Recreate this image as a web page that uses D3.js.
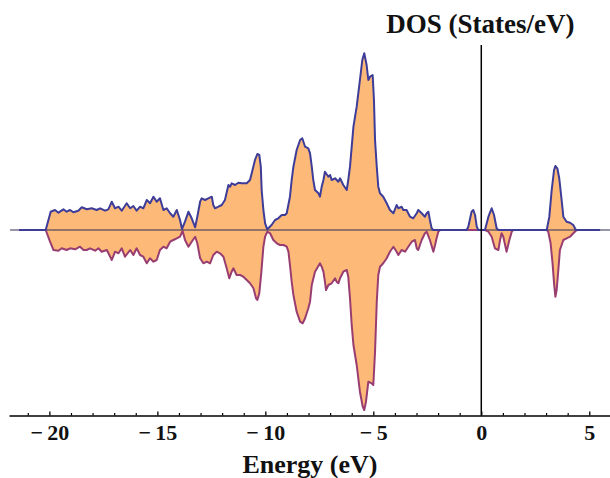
<!DOCTYPE html>
<html>
<head>
<meta charset="utf-8">
<script src="https://cdn.jsdelivr.net/npm/d3@7"></script>
<style>
  html, body { margin: 0; padding: 0; background: #fff; }
  svg { display: block; }
  text { font-family: "Liberation Serif", "Times New Roman", serif; font-weight: bold; fill: #111; }
</style>
</head>
<body>
<svg id="chart" width="610" height="478"></svg>
<script>
// Energy (eV) vs DOS (States/eV), spin up (positive) and spin down (negative)
const spinUp = [
  [-21.4,0],[-20.17,0],[-19.94,1.83],[-19.74,2.0],[-19.58,1.73],[-19.35,2.07],[-19.20,1.83],[-19.04,2.0],
  [-18.89,1.77],[-18.66,1.93],[-18.50,2.27],[-18.27,2.07],[-18.04,2.17],[-17.81,2.0],[-17.65,2.17],
  [-17.42,1.93],[-17.27,2.07],[-17.11,2.83],[-16.96,2.17],[-16.80,2.33],[-16.65,1.93],[-16.42,2.67],
  [-16.26,2.17],[-16.11,2.4],[-15.96,1.93],[-15.80,2.33],[-15.65,2.17],[-15.49,3.0],[-15.34,2.67],
  [-15.18,3.33],[-15.03,2.83],[-14.88,3.17],[-14.72,2.0],[-14.57,2.17],[-14.41,1.67],[-14.26,1.33],
  [-14.10,2.0],[-13.95,1.0],[-13.86,0.1],[-13.72,0.83],[-13.56,1.83],[-13.41,1.17],[-13.25,0.27],
  [-13.15,1.33],[-13.02,2.83],[-12.95,3.17],[-12.79,3.0],[-12.64,3.17],[-12.48,3.33],[-12.41,2.5],
  [-12.33,2.17],[-12.17,2.33],[-12.02,2.5],[-11.87,3.0],[-11.71,4.5],[-11.63,4.33],[-11.56,4.67],
  [-11.40,4.5],[-11.25,4.73],[-11.09,4.67],[-10.86,4.67],[-10.71,5.0],[-10.63,5.67],[-10.48,7.0],
  [-10.37,7.6],[-10.28,7.5],[-10.21,6.33],[-10.17,4.0],[-10.09,2.0],[-10.01,0.67],[-9.91,0.07],
  [-9.71,0.5],[-9.55,1.0],[-9.40,1.17],[-9.24,1.5],[-9.09,1.5],[-9.01,1.67],[-8.86,3.33],[-8.78,5.0],
  [-8.70,6.33],[-8.55,8.0],[-8.39,9.0],[-8.29,9.17],[-8.16,8.33],[-8.01,8.17],[-7.93,7.67],[-7.85,6.33],
  [-7.78,5.0],[-7.70,4.0],[-7.54,3.67],[-7.47,3.33],[-7.39,4.33],[-7.31,5.0],[-7.24,5.83],[-7.08,5.33],
  [-7.00,5.5],[-6.93,5.0],[-6.77,5.17],[-6.62,4.83],[-6.54,5.17],[-6.39,4.5],[-6.23,4.0],[-6.16,5.0],
  [-6.08,6.33],[-6.00,8.33],[-5.92,10.33],[-5.77,12.33],[-5.62,15.0],[-5.51,17.0],[-5.42,17.67],
  [-5.31,16.5],[-5.23,15.0],[-5.15,15.33],[-5.03,15.5],[-4.97,13.0],[-4.92,9.0],[-4.84,6.33],[-4.77,4.33],
  [-4.69,3.67],[-4.54,3.33],[-4.38,2.67],[-4.23,2.0],[-4.07,1.67],[-3.92,2.5],[-3.84,2.17],[-3.69,2.33],
  [-3.61,2.0],[-3.46,2.0],[-3.30,1.33],[-3.15,1.17],[-2.99,1.67],[-2.92,2.0],[-2.76,1.67],[-2.61,1.33],
  [-2.53,1.67],[-2.45,1.83],[-2.38,1.0],[-2.30,0.17],[-2.22,0],
  [-0.68,0],[-0.60,0.33],[-0.45,1.83],[-0.37,2.0],[-0.29,1.5],[-0.21,0.33],[-0.14,0],
  [0.17,0],[0.33,1.33],[0.48,2.17],[0.59,1.5],[0.71,0.17],[0.79,0],
  [3.03,0],[3.15,1.33],[3.26,4.0],[3.37,6.0],[3.43,6.4],[3.52,6.17],[3.61,5.17],[3.72,3.0],[3.80,1.33],
  [3.95,0.83],[4.11,0.73],[4.26,0.5],[4.38,0],[5.5,0]
];
const spinDown = [
  [-21.4,0],[-20.17,0],[-19.97,-1.17],[-19.81,-2.0],[-19.58,-2.07],[-19.43,-1.83],[-19.20,-2.0],
  [-19.04,-1.83],[-18.81,-1.93],[-18.58,-1.67],[-18.42,-2.0],[-18.27,-2.0],[-18.12,-1.83],[-17.88,-2.07],
  [-17.73,-1.83],[-17.58,-2.17],[-17.34,-2.0],[-17.11,-3.0],[-16.96,-2.17],[-16.80,-2.33],[-16.65,-1.83],
  [-16.50,-2.67],[-16.26,-2.0],[-16.11,-2.5],[-15.96,-1.83],[-15.80,-2.5],[-15.65,-2.67],[-15.49,-3.33],
  [-15.34,-2.83],[-15.18,-3.17],[-15.03,-3.0],[-14.88,-2.0],[-14.72,-1.67],[-14.57,-1.83],[-14.41,-1.17],
  [-14.26,-1.0],[-14.10,-0.83],[-13.95,-0.67],[-13.83,-0.1],[-13.72,-1.0],[-13.56,-1.67],[-13.41,-1.17],
  [-13.25,-0.67],[-13.15,-1.33],[-13.02,-2.83],[-12.87,-3.33],[-12.71,-3.17],[-12.56,-3.33],[-12.41,-2.5],
  [-12.25,-2.17],[-12.10,-2.33],[-11.94,-2.67],[-11.79,-3.83],[-11.67,-4.83],[-11.56,-4.17],[-11.48,-3.83],
  [-11.33,-4.5],[-11.17,-4.5],[-11.02,-4.67],[-10.86,-5.0],[-10.71,-5.33],[-10.55,-5.83],[-10.43,-6.83],
  [-10.37,-7.0],[-10.28,-6.33],[-10.19,-4.33],[-10.09,-1.67],[-10.01,-0.67],[-9.91,-0.17],[-9.78,-0.33],
  [-9.63,-1.0],[-9.47,-1.33],[-9.32,-1.5],[-9.16,-1.5],[-9.01,-1.67],[-8.93,-2.17],[-8.86,-3.5],
  [-8.78,-5.17],[-8.70,-6.5],[-8.55,-8.17],[-8.39,-9.17],[-8.27,-9.33],[-8.16,-8.83],[-8.01,-7.83],
  [-7.93,-7.17],[-7.85,-5.5],[-7.70,-4.17],[-7.47,-3.33],[-7.39,-3.67],[-7.31,-4.17],[-7.24,-5.17],
  [-7.19,-6.0],[-7.08,-5.5],[-6.93,-5.33],[-6.77,-4.83],[-6.70,-5.17],[-6.62,-5.33],[-6.54,-4.83],
  [-6.39,-4.17],[-6.23,-4.0],[-6.16,-4.67],[-6.08,-6.83],[-6.00,-9.5],[-5.92,-11.5],[-5.77,-13.5],
  [-5.62,-16.17],[-5.49,-17.67],[-5.42,-18.0],[-5.34,-17.17],[-5.23,-15.17],[-5.08,-15.33],[-5.00,-15.5],
  [-4.92,-12.17],[-4.84,-7.17],[-4.77,-4.5],[-4.69,-3.67],[-4.54,-3.33],[-4.38,-2.83],[-4.23,-2.17],
  [-4.07,-1.67],[-3.92,-2.17],[-3.84,-2.5],[-3.69,-2.0],[-3.53,-2.17],[-3.38,-1.67],[-3.22,-1.17],
  [-3.07,-1.0],[-2.99,-1.83],[-2.92,-2.0],[-2.76,-1.0],[-2.61,-0.33],[-2.53,-0.17],[-2.38,-1.0],
  [-2.22,-2.17],[-2.14,-1.5],[-2.07,-0.83],[-1.99,-0.17],[-1.91,0],
  [0.17,0],[0.33,-0.17],[0.48,-0.67],[0.63,-1.83],[0.79,-2.0],[0.87,-1.0],[0.94,-0.33],[1.02,-0.67],
  [1.17,-2.17],[1.30,-1.0],[1.41,-0.17],[1.48,0],
  [3.03,0],[3.10,-0.17],[3.21,-1.33],[3.30,-3.33],[3.37,-5.33],[3.43,-6.67],[3.49,-6.0],[3.58,-3.67],
  [3.64,-2.0],[3.80,-1.0],[3.95,-0.83],[4.11,-0.67],[4.26,-0.33],[4.38,-0.07],[4.45,0],[5.5,0]
];
const majorTicks = [-20, -15, -10, -5, 0, 5];
const minorTicks = [-21,-19,-18,-17,-16,-14,-13,-12,-11,-9,-8,-7,-6,-4,-3,-2,-1,1,2,3,4];
const xDomain = [-21.87, 5.96];
const yDomain = [-18.55, 18.5];
const xTitle = "Energy (eV)";
const yTitle = "DOS (States/eV)";

const svg = d3.select("#chart");
const x = d3.scaleLinear().domain(xDomain).range([9, 610]);
const y = d3.scaleLinear().domain(yDomain).range([415.5, 45]);

const area = d3.area().x(d => x(d[0])).y0(y(0)).y1(d => y(d[1]));
const line = d3.line().x(d => x(d[0])).y(d => y(d[1]));

const fillColor = "#fdb978";
svg.append("path").datum(spinUp).attr("d", area).attr("fill", fillColor);
svg.append("path").datum(spinDown).attr("d", area).attr("fill", fillColor);

// zero line
svg.append("line")
  .attr("x1", x(-21.82)).attr("x2", x(xDomain[1]))
  .attr("y1", y(0)).attr("y2", y(0))
  .attr("stroke", "#2e2e55").attr("stroke-width", 1.2);

svg.append("path").datum(spinDown).attr("d", line)
  .attr("fill", "none").attr("stroke", "#993d71").attr("stroke-width", 2)
  .attr("stroke-linejoin", "round");
svg.append("path").datum(spinUp).attr("d", line)
  .attr("fill", "none").attr("stroke", "#3d3d99").attr("stroke-width", 2)
  .attr("stroke-linejoin", "round");

// vertical axis at E = 0
svg.append("line")
  .attr("x1", x(0)).attr("x2", x(0))
  .attr("y1", y(yDomain[1])).attr("y2", y(yDomain[0]))
  .attr("stroke", "#000").attr("stroke-width", 1.5);

// bottom axis
const gMinor = svg.append("g").attr("transform", `translate(0,${y(yDomain[0])})`)
  .call(d3.axisBottom(x).tickValues(minorTicks).tickSize(-2.5).tickSizeOuter(0).tickFormat(""));
gMinor.select(".domain").remove();
gMinor.selectAll(".tick line").attr("stroke", "#000").attr("stroke-width", 1.2);

const fmt = v => v < 0 ? "\u2212\u2009" + Math.abs(v) : String(v);
const gMajor = svg.append("g").attr("transform", `translate(0,${y(yDomain[0])})`)
  .call(d3.axisBottom(x).tickValues(majorTicks).tickSize(-4).tickSizeOuter(0).tickPadding(9).tickFormat(fmt));
gMajor.select(".domain").attr("stroke", "#000").attr("stroke-width", 1.6);
gMajor.selectAll(".tick line").attr("stroke", "#000").attr("stroke-width", 1.3);
gMajor.selectAll(".tick text")
  .style("font-family", '"Liberation Serif", "Times New Roman", serif')
  .style("font-weight", "bold").style("font-size", "22px").attr("fill", "#111");

svg.append("text").attr("x", 310).attr("y", 473).attr("text-anchor", "middle")
  .style("font-size", "26px").text(xTitle);
svg.append("text").attr("x", x(0) - 1).attr("y", 33).attr("text-anchor", "middle")
  .style("font-size", "27px").text(yTitle);
</script>
</body>
</html>
